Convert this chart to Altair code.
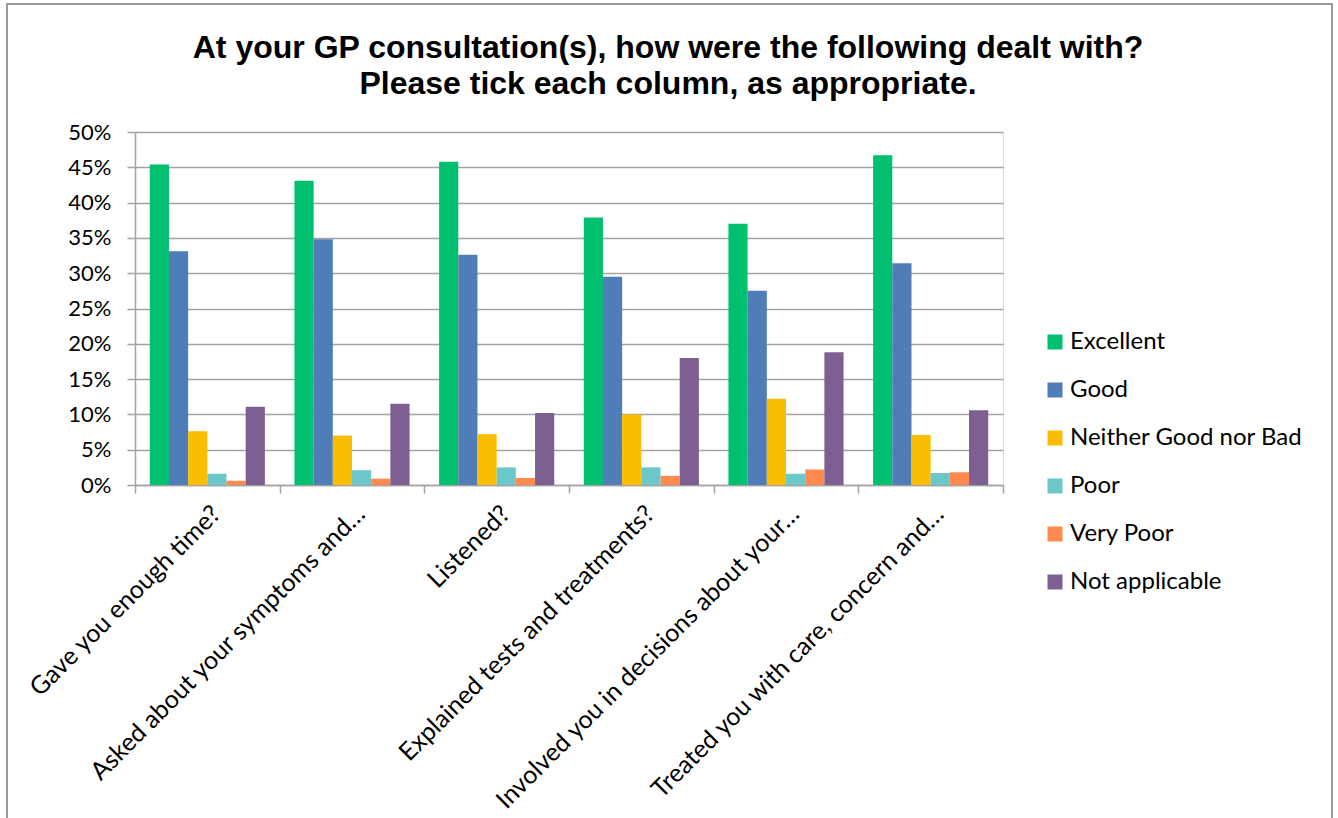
import altair as alt
import pandas as pd

categories = [
    "Gave you enough time?",
    "Asked about your symptoms and…",
    "Listened?",
    "Explained tests and treatments?",
    "Involved you in decisions about your…",
    "Treated you with care, concern and…",
]
series = ["Excellent", "Good", "Neither Good nor Bad", "Poor", "Very Poor", "Not applicable"]
colors = ["#00BF6F", "#4F7DB7", "#F9BE00", "#6CC7CB", "#FF8A4F", "#7E5F92"]

excellent = [45.4, 43.1, 45.8, 37.9, 37.0, 46.7]
good = [33.1, 34.8, 32.6, 29.5, 27.5, 31.4]
neither = [7.6, 7.0, 7.2, 10.0, 12.2, 7.1]
poor = [1.6, 2.1, 2.5, 2.5, 1.6, 1.7]
very_poor = [0.6, 0.9, 1.0, 1.3, 2.2, 1.8]
not_applicable = [11.1, 11.5, 10.2, 18.0, 18.8, 10.6]

y_ticks = [0, 0.05, 0.10, 0.15, 0.20, 0.25, 0.30, 0.35, 0.40, 0.45, 0.50]

rows = []
for s, vals in zip(series, [excellent, good, neither, poor, very_poor, not_applicable]):
    for c, v in zip(categories, vals):
        rows.append({"Question": c, "Rating": s, "Value": v / 100})
df = pd.DataFrame(rows)

FONT = "Lato"
GRID = "#A3A3A3"

bars = alt.Chart(df).mark_bar().encode(
    x=alt.X(
        "Question:N",
        sort=categories,
        title=None,
        scale=alt.Scale(paddingInner=0, paddingOuter=0),
        axis=alt.Axis(
            labelAngle=-45,
            labelFont=FONT,
            labelFontSize=25,
            labelColor="#000000",
            labelPadding=8,
            labelLimit=500,
            tickBand="extent",
            tickSize=8,
            tickColor=GRID,
            tickWidth=1.5,
            domainColor=GRID,
            domainWidth=1.5,
            grid=False,
        ),
    ),
    xOffset=alt.XOffset(
        "Rating:N", sort=series,
        scale=alt.Scale(paddingInner=0, paddingOuter=0.77),
    ),
    y=alt.Y(
        "Value:Q",
        title=None,
        scale=alt.Scale(domain=[0, 0.5], nice=False),
        axis=alt.Axis(
            values=y_ticks,
            format=".0%",
            labelFont=FONT,
            labelFontSize=22,
            labelColor="#000000",
            labelPadding=16,
            tickSize=8,
            tickColor=GRID,
            tickWidth=1.5,
            domainColor=GRID,
            domainWidth=1.5,
            grid=True,
            gridColor=GRID,
            gridWidth=1.5,
        ),
    ),
    color=alt.Color(
        "Rating:N",
        sort=series,
        scale=alt.Scale(domain=series, range=colors),
        legend=alt.Legend(
            title=None,
            orient="none",
            legendX=908,
            legendY=198,
            padding=0,
            symbolType="square",
            symbolSize=225,
            symbolStrokeWidth=0,
            labelFont=FONT,
            labelFontSize=24,
            labelColor="#000000",
            labelOffset=3,
            rowPadding=24,
            labelLimit=400,
        ),
    ),
)

border_df = pd.DataFrame({"k": [0]})
border = alt.Chart(border_df).mark_rect(
    fill=None, stroke="#9A9A9A", strokeWidth=2
).encode(
    x=alt.value(-128),
    x2=alt.value(1197),
    y=alt.value(-128),
    y2=alt.value(700),
)

chart = alt.layer(border, bars).properties(
    width=868,
    height=353,
    autosize=alt.AutoSizeParams(type="none"),
    padding={"left": 135, "top": 132, "right": 335, "bottom": 333},
    title=alt.TitleParams(
        ["At your GP consultation(s), how were the following dealt with?",
         "Please tick each column, as appropriate."],
        font="Liberation Sans",
        fontSize=32,
        fontWeight="bold",
        color="#000000",
        anchor="middle",
        dx=99,
        lineHeight=36,
        offset=-98,
    ),
).configure_view(stroke=None).configure(background="white")

chart.save("out.html", embed_options={"renderer": "svg", "actions": False})
